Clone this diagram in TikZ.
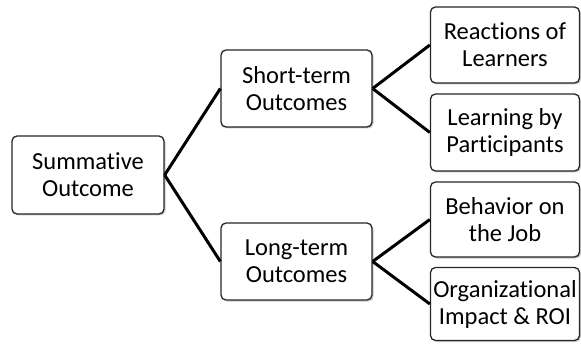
\documentclass[tikz,border=0pt]{standalone}
\usepackage{fontspec}
\setmainfont[Ligatures=NoCommon]{Carlito}
\usetikzlibrary{shadows}
\begin{document}
\begin{tikzpicture}[x=1pt,y=1pt,
  box/.style={draw=black!85, line width=1.3pt, rounded corners=5pt, fill=white,
    minimum width=#1, align=center, inner sep=0pt,
    font=\fontsize{24.5}{27}\selectfont,
    drop shadow={shadow xshift=1.5pt, shadow yshift=-1.5pt, opacity=0.35, fill=black!60}},
  box/.default=151pt,
  link/.style={line width=3pt, black}]
\useasboundingbox (0,0) rectangle (581,343);
\node[box=152pt, minimum height=78pt] (sum) at (88,168) {Summative\\Outcome};
\node[box, minimum height=77pt] (short) at (296.5,254.5) {Short-term\\Outcomes};
\node[box, minimum height=77pt] (long) at (296.5,81.5) {Long-term\\Outcomes};
\node[box=149pt, minimum height=76pt] (react) at (505,298) {Reactions of\\Learners};
\node[box=149pt, minimum height=77pt] (learn) at (505,210.5) {Learning by\\Participants};
\node[box=149pt, minimum height=75pt] (behav) at (505,123.5) {Behavior on\\the Job};
\node[box=149pt, minimum height=73pt] (org) at (505,39) {Organizational\\Impact \& ROI};
\draw[link] (sum.east) -- (short.west);
\draw[link] (sum.east) -- (long.west);
\draw[link] (short.east) -- (react.west);
\draw[link] (short.east) -- (learn.west);
\draw[link] (long.east) -- (behav.west);
\draw[link] (long.east) -- (org.west);
\end{tikzpicture}
\end{document}
